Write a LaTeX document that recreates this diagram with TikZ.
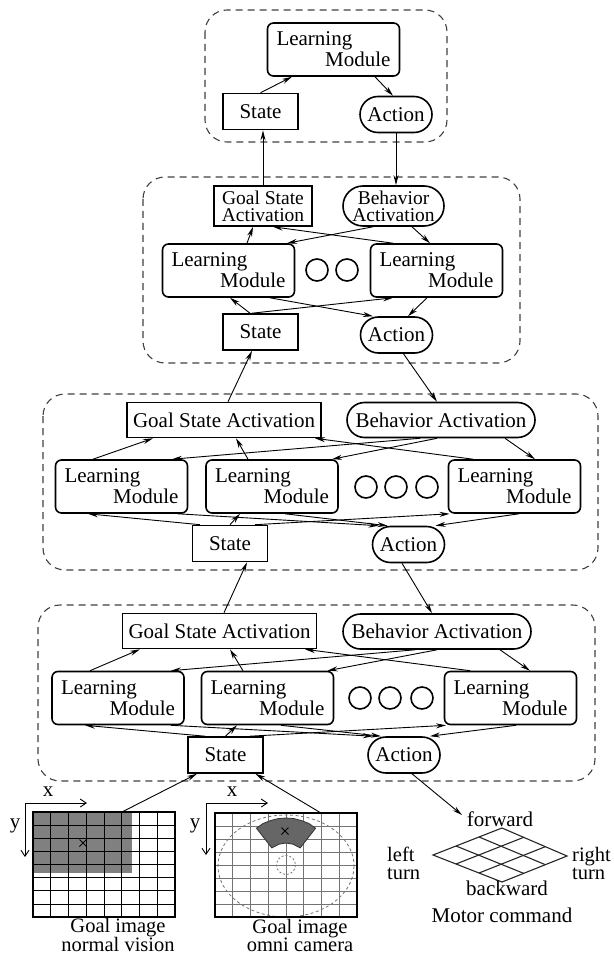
\documentclass[tikz,border=0pt]{standalone}
\usepackage{fontspec}
\setmainfont{Liberation Serif}
\usetikzlibrary{arrows.meta,calc,shapes.misc}
\begin{document}
\begin{tikzpicture}[x=1pt,y=-1pt,
  every node/.style={font=\fontsize{21}{21}\selectfont, inner sep=0pt},
  box/.style={draw, line width=1.6pt},
  lm/.style={box, rounded corners=6pt, minimum width=132pt, minimum height=53pt, text width=114pt, align=left},
  gsa/.style={box, minimum width=194pt, minimum height=35pt},
  gsatwo/.style={box, minimum width=98pt, minimum height=40pt, align=center, font=\fontsize{19.5}{17}\selectfont},
  ba/.style={box, rounded rectangle, minimum width=188pt, minimum height=35pt},
  batwo/.style={box, rounded rectangle, minimum width=101pt, minimum height=40pt, align=center, font=\fontsize{19.5}{17}\selectfont},
  stbox/.style={box, minimum width=75pt, minimum height=36pt},
  act/.style={box, rounded rectangle, minimum width=72pt, minimum height=36pt},
  circ/.style={draw, circle, line width=1.6pt, minimum size=22pt},
  con/.style={line width=0.9pt, -{Stealth[length=10pt,width=5pt]}},
  dashframe/.style={draw=black!75, dash pattern=on 7pt off 5pt, line width=1.1pt, rounded corners=22pt},
  gl/.style={line width=0.7pt},
  glo/.style={line width=0.7pt, draw=black!55},
  axis/.style={line width=0.9pt, -{Straight Barb[length=6pt,width=8pt]}},
  captext/.style={align=center, font=\fontsize{20.5}{18}\selectfont}
]
\useasboundingbox (0,0) rectangle (613,957);

% ---------- dashed frames ----------
\draw[dashframe] (205,10) rectangle (447,142);
\draw[dashframe] (143,177) rectangle (520,363);
\draw[dashframe] (43,394) rectangle (598,570);
\draw[dashframe] (38,605) rectangle (595,781);

% ---------- layer 1 ----------
\node[lm] (L1m) at (333.5,49.5) {Learning\\\hspace*{\fill}Module};
\node[stbox] (L1s) at (260.5,111.5) {State};
\node[act] (L1a) at (396,114.5) {Action};
\draw[con] (L1s.north) -- ([xshift=-41.5pt]L1m.south);
\draw[con] ([xshift=41.5pt]L1m.south) -- ([xshift=-3pt]L1a.north);

% ---------- layer 2 ----------
\node[gsatwo] (L2g) at (263,206) {Goal State\\Activation};
\node[batwo] (L2b) at (393.5,206) {Behavior\\Activation};
\node[lm] (L2m1) at (228.5,270.5) {Learning\\\hspace*{\fill}Module};
\node[lm] (L2m2) at (436.5,270.5) {Learning\\\hspace*{\fill}Module};
\node[circ] (L2c1) at (317,270) {};
\node[circ] (L2c2) at (347,270) {};
\node[stbox] (L2s) at (260.5,332) {State};
\node[act] (L2a) at (396.5,335) {Action};
\draw[con] ([xshift=18.5pt]L2m1.north) -- ([xshift=-10pt]L2g.south);
\draw[con] ([xshift=-20.5pt]L2b.south) -- ([xshift=58.5pt]L2m1.north);
\draw[con] ([xshift=-43.5pt]L2m2.north) -- ([xshift=10pt]L2g.south);
\draw[con] ([xshift=18.5pt]L2b.south) -- ([xshift=-6.5pt]L2m2.north);
\draw[con] ([xshift=-10.5pt]L2s.north) -- ([xshift=1.5pt]L2m1.south);
\draw[con] ([xshift=-8.5pt]L2s.north) -- ([xshift=-43.5pt]L2m2.south);
\draw[con] ([xshift=41.5pt]L2m1.south) -- ([xshift=-23.5pt]L2a.north);
\draw[con] ([xshift=-9.5pt]L2m2.south) -- ([xshift=11.5pt]L2a.north);

% between 1 and 2
\draw[con] (L2g.north) -- (L2g.north |- L1s.south);
\draw[con] (L1a.south) -- (L1a.south |- L2b.north);

% ---------- layer 3 ----------
\node[gsa] (L3g) at (224,420) {Goal State Activation};
\node[ba] (L3b) at (441,420) {Behavior Activation};
\node[lm] (L3m1) at (121.5,486.5) {Learning\\\hspace*{\fill}Module};
\node[lm] (L3m2) at (272,486.5) {Learning\\\hspace*{\fill}Module};
\node[lm] (L3m3) at (514.5,486.5) {Learning\\\hspace*{\fill}Module};
\node[circ] (L3c1) at (366,487) {};
\node[circ] (L3c2) at (396,487) {};
\node[circ] (L3c3) at (427,487) {};
\node[stbox] (L3s) at (230,543.5) {State};
\node[act] (L3a) at (408.5,544.5) {Action};
\draw[con] ([xshift=-28.5pt]L3m1.north) -- ([xshift=-71pt]L3g.south);
\draw[con] ([xshift=-24pt]L3m2.north) -- ([xshift=12pt]L3g.south);
\draw[con] ([xshift=-41.5pt]L3m3.north) -- ([xshift=91pt]L3g.south);
\draw[con] ([xshift=-21pt]L3b.south) -- ([xshift=50.5pt]L3m1.north);
\draw[con] ([xshift=-4pt]L3b.south) -- ([xshift=60pt]L3m2.north);
\draw[con] ([xshift=64pt]L3b.south) -- ([xshift=20.5pt]L3m3.north);
\draw[con] ([xshift=-30pt]L3s.north) -- ([xshift=-33.5pt]L3m1.south);
\draw[con] (L3s.north) -- ([xshift=-32pt]L3m2.south);
\draw[con] ([xshift=25pt]L3s.north) -- ([xshift=-65pt]L3m3.south);
\draw[con] ([xshift=56.5pt]L3m1.south) -- ([xshift=-30pt]L3a.north);
\draw[con] ([xshift=13pt]L3m2.south) -- ([xshift=-21pt]L3a.north);
\draw[con] ([xshift=4.5pt]L3m3.south) -- ([xshift=27pt]L3a.north);

% between 2 and 3
\draw[con] ([xshift=4pt]L3g.north) -- ([xshift=-8.5pt]L2s.south);
\draw[con] ([xshift=7pt]L2a.south) -- ([xshift=-4pt]L3b.north);

% ---------- layer 4 ----------
\node[gsa] (L4g) at (219.5,631) {Goal State Activation};
\node[ba] (L4b) at (437,631.5) {Behavior Activation};
\node[lm] (L4m1) at (118,698) {Learning\\\hspace*{\fill}Module};
\node[lm] (L4m2) at (267.5,698) {Learning\\\hspace*{\fill}Module};
\node[lm] (L4m3) at (510.5,698) {Learning\\\hspace*{\fill}Module};
\node[circ] (L4c1) at (360,698) {};
\node[circ] (L4c2) at (390,698) {};
\node[circ] (L4c3) at (422,698) {};
\node[stbox] (L4s) at (225.5,755) {State};
\node[act] (L4a) at (404,755) {Action};
\draw[con] ([xshift=-28pt]L4m1.north) -- ([xshift=-79.5pt]L4g.south);
\draw[con] ([xshift=-24.5pt]L4m2.north) -- ([xshift=10.5pt]L4g.south);
\draw[con] ([xshift=-40.5pt]L4m3.north) -- ([xshift=85.5pt]L4g.south);
\draw[con] ([xshift=-22pt]L4b.south) -- ([xshift=53pt]L4m1.north);
\draw[con] (L4b.south) -- ([xshift=60pt]L4m2.north);
\draw[con] ([xshift=63pt]L4b.south) -- ([xshift=19.5pt]L4m3.north);
\draw[con] ([xshift=-20.5pt]L4s.north) -- ([xshift=-33pt]L4m1.south);
\draw[con] (L4s.north) -- ([xshift=-30.5pt]L4m2.south);
\draw[con] ([xshift=24.5pt]L4s.north) -- ([xshift=-64.5pt]L4m3.south);
\draw[con] ([xshift=53pt]L4m1.south) -- ([xshift=-31pt]L4a.north);
\draw[con] ([xshift=13.5pt]L4m2.south) -- ([xshift=-23pt]L4a.north);
\draw[con] ([xshift=5.5pt]L4m3.south) -- ([xshift=26pt]L4a.north);

% between 3 and 4
\draw[con] ([xshift=4.5pt]L4g.north) -- ([xshift=17pt]L3s.south);
\draw[con] ([xshift=-6.5pt]L3a.south) -- ([xshift=-5pt]L4b.north);

% ---------- goal image: normal vision ----------
\fill[black!50] (33,812) rectangle (132,873);
\foreach \i in {1,...,7} {
  \draw[gl] ({33+\i*17.75},812) -- ({33+\i*17.75},917);
  \draw[gl] (33,{812+\i*13.125}) -- (175,{812+\i*13.125});
}
\node[draw, line width=1.1pt, minimum width=142pt, minimum height=105pt] (img1) at (104,864.5) {};
\draw[line width=0.9pt] (79.5,839.5) -- (86.5,846.5) (79.5,846.5) -- (86.5,839.5);
\coordinate (o1) at (25,803);
\draw[axis] (o1) -- ++(62,0);
\draw[axis] (o1) -- ++(0,54);
\node (x1) at (48,792) {x};
\node (y1) at (15,826) {y};
\node[captext] (cap1) at (118,935) {Goal image\\normal vision};

% ---------- goal image: omni camera ----------
\foreach \i in {1,...,7} {
  \draw[glo] ({215+\i*17.75},813) -- ({215+\i*17.75},917);
  \draw[glo] (215,{813+\i*13}) -- (357,{813+\i*13});
}
\draw[black!55, line width=0.8pt, dash pattern=on 3pt off 2.5pt] (286,866) ellipse [x radius=68, y radius=51];
\draw[black!55, line width=0.8pt, dash pattern=on 2pt off 2pt] (286,865) circle [radius=9.5];
\filldraw[fill=black!60, draw=black!80, line width=0.8pt]
  (256.4,828.2) -- (263,823.5) -- (270.4,820.6) -- (278,818.6) -- (286,818) -- (294,818.6) -- (301.6,820.6) -- (309,823.5) -- (315.6,828.2)
  -- (300.2,847.9) -- (293,844.2) -- (286,843) -- (279,844.2) -- (271.8,847.9) -- cycle;
\draw[line width=0.9pt] (281.5,827.5) -- (288.5,834.5) (281.5,834.5) -- (288.5,827.5);
\node[draw, line width=1.1pt, minimum width=142pt, minimum height=104pt] (img2) at (286,865) {};
\coordinate (o2) at (206,803);
\draw[axis] (o2) -- ++(62,0);
\draw[axis] (o2) -- ++(0,52);
\node (x2) at (232,792) {x};
\node (y2) at (195,826) {y};
\node[captext] (cap2) at (300,935) {Goal image\\omni camera};

% connectors to bottom State
\draw[con] ([xshift=19pt]img1.north) -- ([xshift=-28.5pt]L4s.south);
\draw[con] ([xshift=34pt]img2.north) -- ([xshift=30pt]L4s.south);

% ---------- motor command ----------
\coordinate (mL) at (433,855);
\coordinate (mT) at (502,828);
\coordinate (mR) at (567,856);
\coordinate (mB) at (502,882);
\draw[line width=1.1pt, black!85] (mL) -- (mT) -- (mR) -- (mB) -- cycle;
\foreach \f in {1/3,2/3} {
  \draw[line width=1.1pt, black!85] ($(mL)!\f!(mB)$) -- ($(mT)!\f!(mR)$);
  \draw[line width=1.1pt, black!85] ($(mL)!\f!(mT)$) -- ($(mB)!\f!(mR)$);
}
\coordinate (mcin) at (462,815);
\draw[con] ([xshift=8pt]L4a.south) -- (mcin);
\node (fw) at (500,819) {forward};
\node (bw) at (507,888) {backward};
\node[captext, anchor=west, align=left] (lt) at (387,863) {left\\turn};
\node[captext, anchor=west, align=left] (rt) at (572,863) {right\\turn};
\node (mc) at (502,915) {Motor command};
\end{tikzpicture}
\end{document}
